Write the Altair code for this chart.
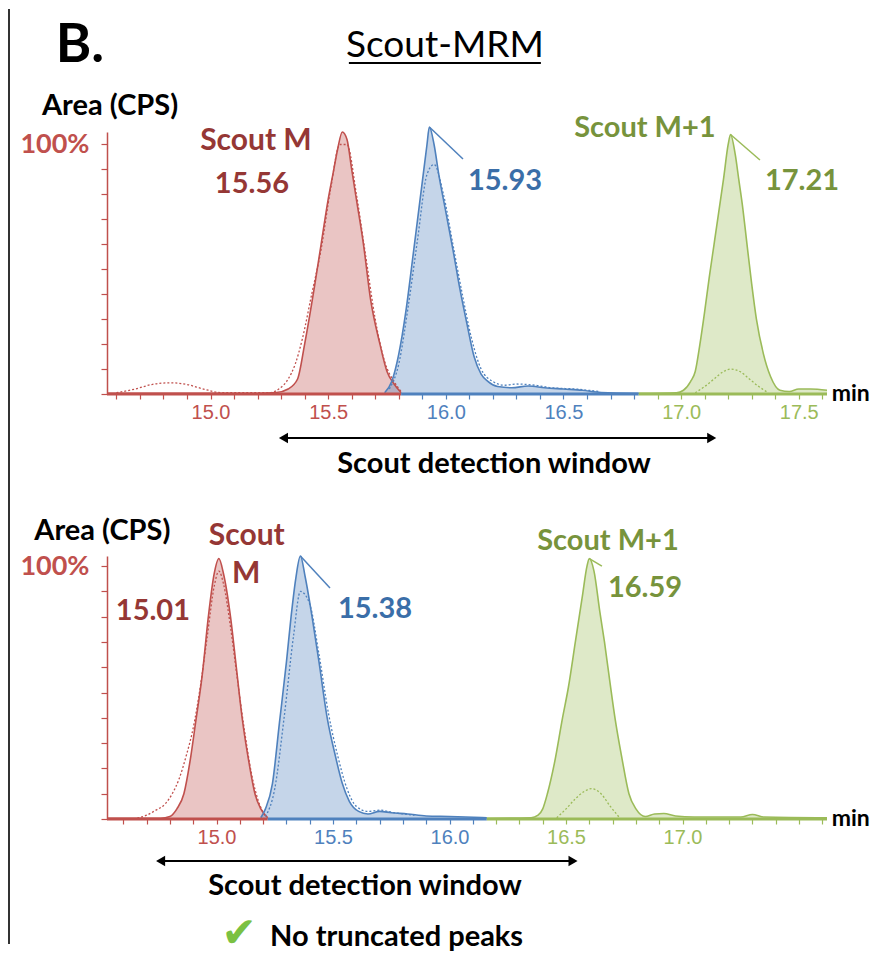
import altair as alt
import pandas as pd

# ---------------- colours & fonts ----------------
RED, RED_DARK = "#c0504d", "#953735"
BLUE, BLUE_DARK = "#4f81bd", "#3a6ea8"
GREEN, GREEN_DARK = "#9bbb59", "#77933c"
CHECK_GREEN = "#7ac143"
LATO = "Lato"
TICK_FONT = "Liberation Sans Narrow, Liberation Sans, sans-serif"

# ---------------- top panel traces (min, % intensity) ----------------
TOP_RED_T = [14.56, 15.20, 15.28, 15.33, 15.37, 15.40, 15.44, 15.47, 15.50, 15.52, 15.54, 15.56, 15.58, 15.60, 15.62, 15.65, 15.68, 15.72, 15.75, 15.78, 15.81]
TOP_RED_V = [0.3, 0.3, 0.6, 2, 6, 20, 42, 60, 78, 88, 98, 105, 102, 90, 78, 60, 38, 20, 9, 4, 0.5]
TOP_RED_DOT_T = [14.60, 14.68, 14.75, 14.83, 14.90, 14.97, 15.05, 15.25, 15.29, 15.33, 15.36, 15.39, 15.43, 15.47, 15.51, 15.55, 15.58, 15.62, 15.66, 15.70, 15.74, 15.78, 15.81]
TOP_RED_DOT_V = [0.5, 2, 3.8, 4.5, 3.8, 2, 0.5, 0.5, 2, 6, 12, 22, 40, 58, 82, 100, 100, 80, 55, 30, 13, 5, 1]
TOP_BLUE_T = [15.74, 15.77, 15.80, 15.83, 15.86, 15.88, 15.90, 15.92, 15.93, 15.95, 15.97, 16.00, 16.03, 16.06, 16.09, 16.12, 16.15, 16.18, 16.22, 16.28, 16.35, 16.42, 16.50, 16.58, 16.66, 16.82]
TOP_BLUE_V = [0.5, 5, 16, 33, 55, 70, 85, 100, 107, 100, 88, 73, 58, 42, 28, 15, 8, 5, 3, 2.5, 3.2, 2.5, 2, 1.5, 0.6, 0.3]
TOP_BLUE_DOT_T = [15.76, 15.80, 15.84, 15.88, 15.92, 15.95, 15.99, 16.03, 16.07, 16.11, 16.15, 16.20, 16.25, 16.30, 16.38, 16.45, 16.55, 16.65]
TOP_BLUE_DOT_V = [2, 12, 35, 62, 88, 92, 80, 60, 40, 22, 10, 5, 3.5, 4, 3.5, 2.5, 2, 1]
TOP_GREEN_T = [16.82, 16.98, 17.01, 17.04, 17.06, 17.08, 17.10, 17.12, 17.14, 17.16, 17.18, 17.20, 17.21, 17.23, 17.245, 17.26, 17.28, 17.30, 17.32, 17.35, 17.38, 17.42, 17.46, 17.50, 17.55, 17.62]
TOP_GREEN_V = [0.3, 0.5, 1.5, 5, 9, 20, 33, 47, 60, 73, 86, 100, 104, 96, 86, 76, 60, 44, 30, 16, 7, 1.5, 1, 2, 2, 1.5]
TOP_GREEN_DOT_T = [17.06, 17.10, 17.14, 17.18, 17.21, 17.25, 17.29, 17.33, 17.37]
TOP_GREEN_DOT_V = [0.5, 3, 6, 9, 10, 9, 6, 3, 0.5]

# ---------------- bottom panel traces ----------------
BOT_RED_T = [14.53, 14.76, 14.80, 14.83, 14.86, 14.89, 14.91, 14.94, 14.965, 14.99, 15.01, 15.03, 15.06, 15.085, 15.11, 15.14, 15.165, 15.19, 15.22]
BOT_RED_V = [0.3, 0.3, 1, 4, 10, 25, 38, 58, 80, 97, 103, 97, 80, 60, 40, 22, 10, 4, 0.5]
BOT_RED_DOT_T = [14.66, 14.70, 14.74, 14.78, 14.81, 14.84, 14.87, 14.90, 14.93, 14.96, 14.99, 15.01, 15.03, 15.06, 15.09, 15.12, 15.15, 15.18, 15.21]
BOT_RED_DOT_V = [0.3, 1.5, 3.5, 6, 10, 16, 25, 36, 52, 72, 92, 98, 93, 76, 55, 35, 18, 7, 1]
BOT_BLUE_T = [15.19, 15.21, 15.24, 15.27, 15.30, 15.32, 15.34, 15.36, 15.38, 15.41, 15.44, 15.475, 15.51, 15.54, 15.57, 15.61, 15.65, 15.70, 15.75, 15.82, 15.90, 16.00, 16.16]
BOT_BLUE_V = [0.5, 4, 14, 38, 62, 80, 95, 104, 96, 80, 62, 40, 25, 14, 7, 3, 2, 3, 2.5, 2, 1.2, 1, 0.5]
BOT_BLUE_DOT_T = [15.21, 15.25, 15.29, 15.33, 15.36, 15.40, 15.44, 15.48, 15.52, 15.56, 15.60, 15.65, 15.70, 15.76, 15.85]
BOT_BLUE_DOT_V = [1, 12, 40, 72, 90, 85, 65, 42, 25, 12, 5, 3, 3.5, 2.5, 1.5]
BOT_GREEN_T = [16.16, 16.35, 16.38, 16.40, 16.42, 16.45, 16.485, 16.51, 16.54, 16.57, 16.59, 16.60, 16.62, 16.645, 16.665, 16.69, 16.71, 16.74, 16.77, 16.80, 16.84, 16.88, 16.92, 16.97, 17.05, 17.25, 17.30, 17.35, 17.62]
BOT_GREEN_V = [0.3, 0.5, 1.5, 4, 10, 22, 40, 52, 70, 88, 100, 103, 98, 82, 70, 53, 40, 24, 10, 4, 1, 2, 2.2, 1.2, 0.8, 0.8, 1.8, 0.8, 0.5]
BOT_GREEN_DOT_T = [16.46, 16.50, 16.54, 16.58, 16.61, 16.65, 16.69, 16.73]
BOT_GREEN_DOT_V = [0.5, 4, 8, 11, 12, 10, 5, 0.5]

# ---------------- axes ----------------
X_TICKS = [round(14.6 + 0.1 * i, 1) for i in range(31)]
Y_TICKS = [0, 10, 20, 30, 40, 50, 60, 70, 80, 90, 100]
TOP_XDOMAIN, BOT_XDOMAIN = [14.56, 17.62], [14.53, 17.62]
TOP_YMAX, BOT_YMAX = 105, 104
TOP_BREAKS, BOT_BREAKS = [15.81, 16.82], [15.22, 16.16]
TOP_LABEL_MAX, BOT_LABEL_MAX = 17.5, 17.0

# axis colour segments (start, end, colour)
TOP_SEGS = [(14.56, 15.81, RED), (15.81, 16.82, BLUE), (16.82, 17.62, GREEN)]
BOT_SEGS = [(14.53, 15.22, RED), (15.22, 16.16, BLUE), (16.16, 17.62, GREEN)]

# ---------------- annotations ----------------
TOP_CENTER_BOLD = [("B.", 14.445, 139.5, "black", 54), ("Area (CPS)", 14.573, 115.4, "black", 29),
                   ("Scout M", 15.193, 101.4, RED_DARK, 30), ("15.56", 15.176, 84.2, RED_DARK, 29),
                   ("Scout M+1", 16.846, 106.6, GREEN_DARK, 29),
                   ("Scout detection window", 16.205, -28.0, "black", 29)]
TOP_LEFT_BOLD = [("15.93", 16.094, 85.4, BLUE_DARK, 29), ("17.21", 17.356, 85.4, GREEN_DARK, 29),
                 ("min", 17.64, 0.0, "black", 23)]
TOP_REGULAR = [("Scout-MRM", 15.996, 139.5, "black", 37)]
TOP_UNDERLINE = [(15.588, 16.404, 132.7)]
TOP_LEADERS = [(15.93, 107.0, 16.073, 94.2, BLUE), (17.21, 104.0, 17.335, 93.8, GREEN)]
TOP_ARROW = [(15.31, 17.13, -17.6)]

BOT_CENTER_BOLD = [("Area (CPS)", 14.51, 113.8, "black", 29), ("Scout", 15.13, 111.9, RED_DARK, 30),
                   ("M", 15.127, 96.8, RED_DARK, 30), ("15.01", 14.727, 82.2, RED_DARK, 29),
                   ("Scout M+1", 16.68, 109.9, GREEN_DARK, 29),
                   ("Scout detection window", 15.637, -26.5, "black", 29)]
BOT_LEFT_BOLD = [("15.38", 15.521, 83.0, BLUE_DARK, 29), ("16.59", 16.68, 91.3, GREEN_DARK, 29),
                 ("min", 17.64, 0.0, "black", 23), ("No truncated peaks", 15.23, -46.5, "black", 29)]
BOT_CHECK = [("\u2714", 15.097, -45.5, CHECK_GREEN, 42)]
BOT_LEADERS = [(15.36, 104.0, 15.487, 91.3, BLUE), (16.60, 103.0, 16.654, 100.0, GREEN)]
BOT_ARROW = [(14.76, 16.53, -16.6)]


def traces_df(traces):
    rows = []
    for name, color, ts, vs in traces:
        for t, v in zip(ts, vs):
            rows.append({"trace": name, "color": color, "t": t, "v": v})
    return pd.DataFrame(rows)


def text_df(items):
    return pd.DataFrame([{"text": a, "t": b, "v": c, "color": d, "size": e} for a, b, c, d, e in items])


def cond_color(breaks):
    return {"condition": [{"test": f"datum.value < {breaks[0]}", "value": RED},
                          {"test": f"datum.value < {breaks[1]}", "value": BLUE}],
            "value": GREEN}


def panel(main, dotted, segs, center_bold, left_bold, regular, leaders, arrow,
          xdom, ymax, height, breaks, label_max, extra=None):
    xs = alt.Scale(domain=xdom, nice=False, zero=False)
    ys = alt.Scale(domain=[0, ymax], nice=False, zero=True)
    x_axis = alt.Axis(values=X_TICKS, domain=False, grid=False, tickSize=5, tickWidth=1.2,
                      labelExpr=("abs(datum.value*2 - round(datum.value*2)) < 0.001 && datum.value >= 14.99 "
                                 f"&& datum.value <= {label_max + 0.01} ? format(datum.value, '.1f') : ''"),
                      labelFont=TICK_FONT, labelFontSize=20, labelPadding=3, labelOverlap=False,
                      labelFlush=False, labelColor=cond_color(breaks), tickColor=cond_color(breaks))
    y_axis = alt.Axis(values=Y_TICKS, grid=False, domainColor=RED, domainWidth=1.5, tickColor=RED,
                      tickSize=6, tickWidth=1.2,
                      labelExpr="datum.value == 100 ? '100%' : ''", labelColor=RED,
                      labelFont=LATO, labelFontWeight="bold", labelFontSize=27, labelPadding=12)

    def X(field="t"):
        return alt.X(f"{field}:Q", scale=xs, axis=x_axis, title=None)

    def Y(field="v", **kw):
        return alt.Y(f"{field}:Q", scale=ys, axis=y_axis, title=None, **kw)

    main_df = traces_df(main)
    dot_df = traces_df(dotted)
    seg_df = pd.DataFrame([{"t": a, "t2": b, "v": 0, "color": c} for a, b, c in segs])
    lead_df = pd.DataFrame([{"t": a, "v": b, "t2": c, "v2": d, "color": e} for a, b, c, d, e in leaders])
    arr_df = pd.DataFrame([{"t": a, "t2": b, "v": c} for a, b, c in arrow])
    head_df = pd.DataFrame([{"t": a, "v": c, "shape": "triangle-left"} for a, b, c in arrow] +
                           [{"t": b, "v": c, "shape": "triangle-right"} for a, b, c in arrow])

    area = alt.Chart(main_df).mark_area(opacity=0.33, interpolate="monotone").encode(
        x=X(), y=Y(stack=None),
        color=alt.Color("color:N", scale=None), detail="trace:N")
    lines = alt.Chart(main_df).mark_line(strokeWidth=1.6, interpolate="monotone").encode(
        x=X(), y=Y(), color=alt.Color("color:N", scale=None), detail="trace:N")
    dots = alt.Chart(dot_df).mark_line(strokeWidth=1.3, strokeDash=[2, 2], interpolate="monotone").encode(
        x=X(), y=Y(), color=alt.Color("color:N", scale=None), detail="trace:N")
    seg = alt.Chart(seg_df).mark_rule(strokeWidth=3).encode(
        x=X(), x2="t2:Q", y=Y(), color=alt.Color("color:N", scale=None))
    lead = alt.Chart(lead_df).mark_rule(strokeWidth=1.5).encode(
        x=X(), x2="t2:Q", y=Y(), y2="v2:Q", color=alt.Color("color:N", scale=None))
    arr = alt.Chart(arr_df).mark_rule(strokeWidth=2, color="black").encode(x=X(), x2="t2:Q", y=Y())
    heads = alt.Chart(head_df).mark_point(filled=True, color="black", opacity=1, size=110).encode(
        x=X(), y=Y(), shape=alt.Shape("shape:N", scale=None))

    def texts(items, align, weight):
        return alt.Chart(text_df(items)).mark_text(align=align, baseline="middle", font=LATO,
                                                   fontWeight=weight).encode(
            x=X(), y=Y(), text="text:N", color=alt.Color("color:N", scale=None),
            size=alt.Size("size:Q", scale=None))

    layers = [area, lines, dots, seg, lead, arr, heads,
              texts(center_bold, "center", "bold"), texts(left_bold, "left", "bold")]
    if regular:
        layers.append(texts(regular, "center", "normal"))
    if extra is not None:
        layers.extend(extra(X, Y))
    return alt.layer(*layers).properties(width=720, height=height)


def top_extra(X, Y):
    ul = alt.Chart(pd.DataFrame([{"t": a, "t2": b, "v": c} for a, b, c in TOP_UNDERLINE])).mark_rule(
        strokeWidth=2, color="black").encode(x=X(), x2="t2:Q", y=Y())
    border = alt.Chart(pd.DataFrame([{"k": 0}])).mark_rule(strokeWidth=2, color="#333333").encode(
        x=alt.value(-98), y=alt.value(-123), y2=alt.value(812))
    return [ul, border]


def bot_extra(X, Y):
    chk = alt.Chart(text_df(BOT_CHECK)).mark_text(align="center", baseline="middle",
                                                  font="DejaVu Sans").encode(
        x=X(), y=Y(), text="text:N", color=alt.Color("color:N", scale=None),
        size=alt.Size("size:Q", scale=None))
    return [chk]


top = panel(
    [("red", RED, TOP_RED_T, TOP_RED_V), ("blue", BLUE, TOP_BLUE_T, TOP_BLUE_V),
     ("green", GREEN, TOP_GREEN_T, TOP_GREEN_V)],
    [("red", RED, TOP_RED_DOT_T, TOP_RED_DOT_V), ("blue", BLUE, TOP_BLUE_DOT_T, TOP_BLUE_DOT_V),
     ("green", GREEN, TOP_GREEN_DOT_T, TOP_GREEN_DOT_V)],
    TOP_SEGS, TOP_CENTER_BOLD, TOP_LEFT_BOLD, TOP_REGULAR, TOP_LEADERS, TOP_ARROW,
    TOP_XDOMAIN, TOP_YMAX, 262, TOP_BREAKS, TOP_LABEL_MAX, extra=top_extra)

bottom = panel(
    [("red", RED, BOT_RED_T, BOT_RED_V), ("blue", BLUE, BOT_BLUE_T, BOT_BLUE_V),
     ("green", GREEN, BOT_GREEN_T, BOT_GREEN_V)],
    [("red", RED, BOT_RED_DOT_T, BOT_RED_DOT_V), ("blue", BLUE, BOT_BLUE_DOT_T, BOT_BLUE_DOT_V),
     ("green", GREEN, BOT_GREEN_DOT_T, BOT_GREEN_DOT_V)],
    BOT_SEGS, BOT_CENTER_BOLD, BOT_LEFT_BOLD, None, BOT_LEADERS, BOT_ARROW,
    BOT_XDOMAIN, BOT_YMAX, 263, BOT_BREAKS, BOT_LABEL_MAX, extra=bot_extra)

chart = alt.vconcat(top, bottom, spacing=162, bounds="flush").properties(
    padding=0, background="white").configure_view(strokeWidth=0)

chart.save("out.html", embed_options={"renderer": "svg", "actions": False})
